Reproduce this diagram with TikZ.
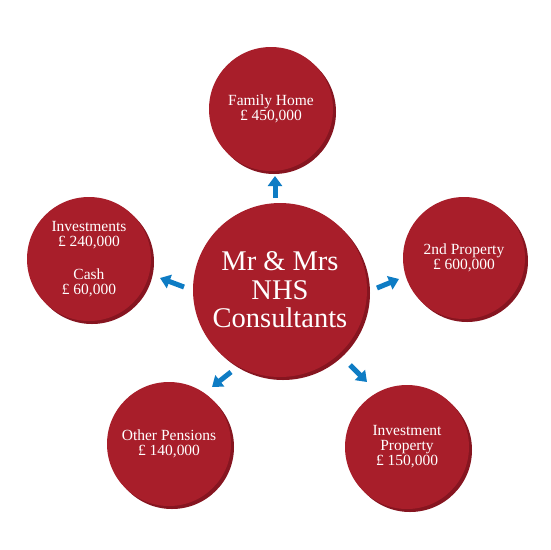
\documentclass[tikz,border=0pt]{standalone}
\usepackage{fontspec}
\setmainfont{Liberation Serif}
\usetikzlibrary{arrows.meta,shadows}
\definecolor{discred}{HTML}{A81E2A}
\definecolor{discshadow}{HTML}{861520}
\definecolor{arrowblue}{HTML}{0E7CC4}
\begin{document}
\begin{tikzpicture}[x=1pt,y=-1pt,
  disc/.style={circle, fill=discred, text=white, align=center, inner sep=0pt,
    font=\fontsize{15.5}{15}\selectfont,
    drop shadow={shadow xshift=3pt, shadow yshift=-3pt, fill=discshadow, opacity=1}},
  bigtext/.style={font=\fontsize{28.5}{28.5}\selectfont},
  flow/.style={draw=arrowblue, line width=5pt, -{Triangle[length=10pt,width=14pt]}}]
\fill[white] (0,0) rectangle (550,550);
\useasboundingbox (0,0) rectangle (550,550);

\node[disc, bigtext, minimum size=174pt] (center) at (280,290) {Mr \& Mrs\\NHS\\Consultants};
\node[disc, minimum size=124pt] (home) at (271,109) {Family Home\\£ 450,000};
\node[disc, minimum size=124pt] (invest) at (89,259) {Investments\\£ 240,000\\[18pt]Cash\\£ 60,000};
\node[disc, minimum size=122pt] (second) at (464,258) {2nd Property\\£ 600,000};
\node[disc, minimum size=124pt] (pension) at (169,444) {Other Pensions\\£ 140,000};
\node[disc, minimum size=124pt] (invprop) at (407,447) {Investment\\Property\\£ 150,000};

\coordinate (upA) at (275,198);   \coordinate (upB) at (275,176);
\coordinate (lfA) at (184,287);   \coordinate (lfB) at (160,278);
\coordinate (rtA) at (377,288);   \coordinate (rtB) at (399,279);
\coordinate (blA) at (231,372);   \coordinate (blB) at (212,387);
\coordinate (brA) at (350,365);   \coordinate (brB) at (367,382);

\draw[flow] (upA) -- (upB);
\draw[flow] (lfA) -- (lfB);
\draw[flow] (rtA) -- (rtB);
\draw[flow] (blA) -- (blB);
\draw[flow] (brA) -- (brB);
\end{tikzpicture}
\end{document}
